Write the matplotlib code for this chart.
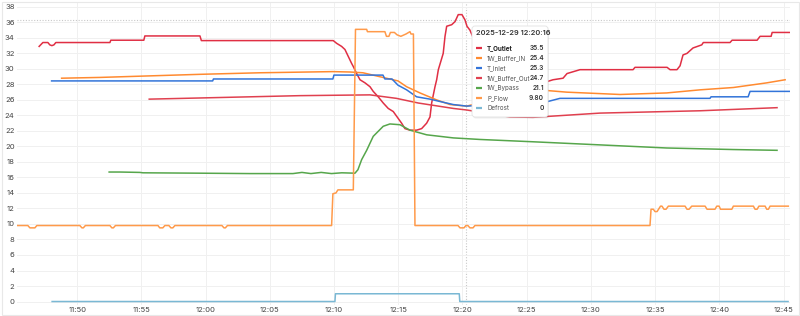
from datetime import datetime, timedelta

import matplotlib
matplotlib.use("Agg")
import matplotlib.pyplot as plt
import matplotlib.dates as mdates
from matplotlib.patches import FancyBboxPatch, Rectangle

plt.rcParams['font.family'] = ['Inter', 'DejaVu Sans']

base = datetime(2025, 12, 29, 11, 50, 0)

# minutes after 11:50 / values
t_outlet_min = [-2.96, -2.67, -2.28, -2.13, -1.97, -1.81, -1.66, 2.55, 2.62, 5.19, 5.27, 9.56, 9.67,
                18.89, 19.94, 20.20, 20.59, 20.85, 21.11, 21.37, 21.50, 21.76, 22.02, 22.41, 22.80,
                23.05, 23.44, 23.83, 24.22, 24.61, 25.00, 25.26, 25.52, 25.91, 26.43, 26.82, 27.21,
                27.47, 27.60, 27.86, 27.99, 28.12, 28.50, 28.64, 28.77, 29.16, 29.42, 29.67, 29.96,
                30.20, 30.35, 30.58, 31.36, 32.92, 34.48, 36.66, 37.05, 37.83, 38.14, 39.15, 43.28,
                43.43, 45.93, 46.16, 46.70, 46.94, 47.17, 47.48, 47.95, 48.63, 48.75, 50.83, 50.99,
                52.94, 53.17, 54.03, 54.11, 55.51]
t_outlet_val = [32.9, 33.4, 33.4, 33.1, 33.0, 33.1, 33.4, 33.4, 33.7, 33.7, 34.25, 34.25, 33.65,
                33.65, 33.65, 33.3, 32.9, 32.5, 31.6, 30.7, 30.3, 29.4, 28.6, 28.2, 27.7,
                27.1, 26.4, 25.6, 24.9, 24.5, 23.6, 23.0, 22.3, 22.1, 22.1, 22.3, 23.0,
                23.8, 25.6, 27.7, 28.6, 29.9, 32.0, 34.2, 35.5, 35.7, 36.1, 37.0, 37.0,
                36.3, 35.5, 35.0, 32.0, 29.5, 28.4, 28.4, 28.6, 28.8, 29.4, 29.9, 29.9,
                30.2, 30.2, 29.9, 29.9, 30.4, 31.8, 32.0, 32.7, 33.1, 33.4, 33.4, 33.7,
                33.7, 34.2, 34.2, 34.7, 34.7]

buffer_in_min = [-1.21, 1.77, 5.66, 9.56, 14.23, 19.91, 21.24, 22.25, 23.81, 24.98, 25.65, 26.69,
                 27.99, 29.03, 30.33, 32.92, 36.66, 38.12, 42.27, 45.90, 48.50, 51.09, 53.69, 55.12]
buffer_in_val = [28.8, 28.9, 29.1, 29.3, 29.5, 29.65, 29.6, 29.5, 28.9, 28.45, 27.7, 26.9,
                 26.0, 25.4, 25.2, 26.3, 27.2, 27.0, 26.7, 26.9, 27.3, 27.6, 28.2, 28.6]

t_inlet_min = [-1.99, 10.55, 10.61, 19.91, 19.99, 23.81, 23.96, 24.51, 24.98, 25.65, 26.43,
               27.47, 28.24, 29.29, 30.33, 36.66, 37.59, 49.27, 49.35, 52.24, 52.39, 55.51]
t_inlet_val = [28.45, 28.45, 28.7, 28.7, 29.2, 29.2, 28.7, 28.7, 27.9, 27.3, 26.4,
               26.1, 25.8, 25.4, 25.2, 25.8, 26.2, 26.2, 26.4, 26.4, 27.1, 27.1]

buffer_out_min = [5.61, 9.56, 13.45, 17.34, 22.80, 24.86, 26.56, 29.29, 30.33, 33.70, 35.49, 40.71, 48.50, 54.49]
buffer_out_val = [26.1, 26.25, 26.4, 26.55, 26.65, 26.2, 25.6, 24.9, 24.7, 23.8, 23.75, 24.3, 24.6, 25.0]

bypass_min = [2.49, 3.33, 4.88, 5.12, 9.56, 13.45, 16.80, 17.5, 18.2, 19.0, 19.8, 20.6, 21.63, 21.86,
              22.15, 22.54, 23.05, 23.83, 24.35, 25.13, 25.91, 27.21, 29.29, 31.36, 35.51, 40.71,
              45.90, 51.09, 54.49]
bypass_val = [16.7, 16.7, 16.65, 16.6, 16.55, 16.5, 16.5, 16.65, 16.5, 16.65, 16.5, 16.6, 16.55, 17.0,
              18.3, 19.5, 21.3, 22.6, 22.9, 22.8, 22.1, 21.5, 21.1, 20.9, 20.6, 20.2,
              19.8, 19.6, 19.5]

p_flow_min = [-4.70, -3.84, -3.68, -3.29, -3.14, 0.21, 0.37, 0.48, 0.64, 2.55, 2.70, 2.82, 2.98,
              6.29, 6.43, 6.67, 6.83, 7.14, 7.30, 7.45, 7.61, 11.27, 11.43, 11.54, 11.70,
              19.81, 19.91, 20.15, 20.30, 21.50, 21.67, 22.54, 22.60, 23.96, 24.08, 24.27, 24.39,
              24.70, 24.90, 25.20, 25.60, 25.91, 25.99, 26.18, 26.30, 29.65, 29.81, 30.12, 30.27,
              30.42, 30.58, 30.82, 30.97, 44.60, 44.68, 44.86, 44.99, 45.15, 45.42, 45.53, 45.69,
              45.85, 46.03, 47.33, 47.48, 47.64, 47.85, 48.89, 49.04, 49.66, 49.80, 49.98, 50.09,
              50.97, 51.09, 52.65, 52.78, 52.94, 53.08, 53.56, 53.69, 53.82, 53.95, 55.37]
p_flow_val = [9.8, 9.8, 9.5, 9.5, 9.8, 9.8, 9.5, 9.5, 9.8, 9.8, 9.5, 9.5, 9.8,
              9.8, 9.5, 9.5, 9.8, 9.8, 9.5, 9.5, 9.8, 9.8, 9.5, 9.5, 9.8,
              9.8, 13.9, 14.0, 14.4, 14.4, 35.1, 35.1, 34.8, 34.8, 34.2, 34.2, 34.7,
              34.7, 34.4, 34.2, 34.5, 34.8, 34.5, 34.5, 9.8, 9.8, 9.5, 9.5, 9.8,
              9.8, 9.5, 9.5, 9.8, 9.8, 11.9, 11.9, 11.6, 11.6, 12.3, 12.3, 11.9,
              11.9, 12.3, 12.3, 11.9, 11.9, 12.3, 12.3, 11.9, 11.9, 12.3, 12.3, 11.9,
              11.9, 12.3, 12.3, 11.9, 11.9, 12.3, 12.3, 11.9, 11.9, 12.3, 12.3]

defrost_min = [-1.95, 20.07, 20.11, 29.75, 29.79, 55.35]
defrost_val = [0, 0, 1, 1, 0, 0]

series = [
    ("T_Outlet", t_outlet_min, t_outlet_val, "#E02F44"),
    ("1W_Buffer_IN", buffer_in_min, buffer_in_val, "#FF8A30"),
    ("T_Inlet", t_inlet_min, t_inlet_val, "#3274D9"),
    ("1W_Buffer_Out", buffer_out_min, buffer_out_val, "#E0404F"),
    ("1W_Bypass", bypass_min, bypass_val, "#56A64B"),
    ("P_Flow", p_flow_min, p_flow_val, "#FF9A4A"),
    ("Defrost", defrost_min, defrost_val, "#7AB8D4"),
]

# tooltip snapshot
hover_time = datetime(2025, 12, 29, 12, 20, 16)
hover_values = ["35.5", "25.4", "25.3", "24.7", "21.1", "9.80", "0"]
cursor_y = 36.3


def to_time(mins):
    return [base + timedelta(minutes=m) for m in mins]


fig = plt.figure(figsize=(8, 3.16), dpi=100)
ax = fig.add_axes([0.021, 0.036, 0.9665, 0.957])

for name, mins, vals, col in series:
    ax.plot(to_time(mins), vals, color=col, lw=1.1, label=name, solid_joinstyle="round")

ax.axvline(hover_time, color="#c8c8c8", lw=0.8, ls=(0, (1, 1.5)), zorder=0)
ax.axhline(cursor_y, color="#c8c8c8", lw=0.8, ls=(0, (1, 1.5)), zorder=0)

ax.set_xlim(base + timedelta(minutes=-4.7), base + timedelta(minutes=55.5))
ax.set_ylim(-0.4, 38.6)
ax.set_yticks(range(0, 39, 2))
ax.xaxis.set_major_locator(mdates.MinuteLocator(byminute=range(0, 60, 5)))
ax.xaxis.set_major_formatter(mdates.DateFormatter("%H:%M"))

ax.grid(True, color="#f0f0f0", lw=0.7)
ax.set_axisbelow(True)
for s in ax.spines.values():
    s.set_visible(False)
ax.tick_params(length=0, labelsize=5.5, labelcolor="#444444", pad=1.6)

# overlay in pixel coords for the panel border + hover tooltip
ov = fig.add_axes([0, 0, 1, 1], zorder=10)
ov.axis("off")
ov.set_xlim(0, 800)
ov.set_ylim(316, 0)

ov.add_patch(Rectangle((1.5, 1.5), 797, 313, fill=False, ec="#e8e8e8", lw=0.8))

ov.add_patch(FancyBboxPatch((473, 27.5), 76, 91, boxstyle="round,pad=0,rounding_size=3",
                            fc="#000000", ec="none", alpha=0.07))
ov.add_patch(FancyBboxPatch((472, 26), 76, 91, boxstyle="round,pad=0,rounding_size=3",
                            fc="white", ec="#e2e2e2", lw=0.6))

ov.text(476, 33, hover_time.strftime("%Y-%m-%d %H:%M:%S"), fontsize=5.3,
        color="#333333", fontweight="semibold", va="center", ha="left")
for i, ((name, _, _, col), val) in enumerate(zip(series, hover_values)):
    yy = 48.3 + 9.9 * i
    ov.plot([476, 482], [yy, yy], color=col, lw=1.6, solid_capstyle="butt")
    bold = "bold" if i == 0 else "normal"
    ov.text(487, yy, name, fontsize=4.5, color="#222222" if i == 0 else "#555555",
            fontweight=bold, va="center", ha="left")
    ov.text(544, yy, val, fontsize=4.7, color="#333333", fontweight="semibold",
            va="center", ha="right")

fig.savefig("out.png", dpi=100, facecolor="white")
